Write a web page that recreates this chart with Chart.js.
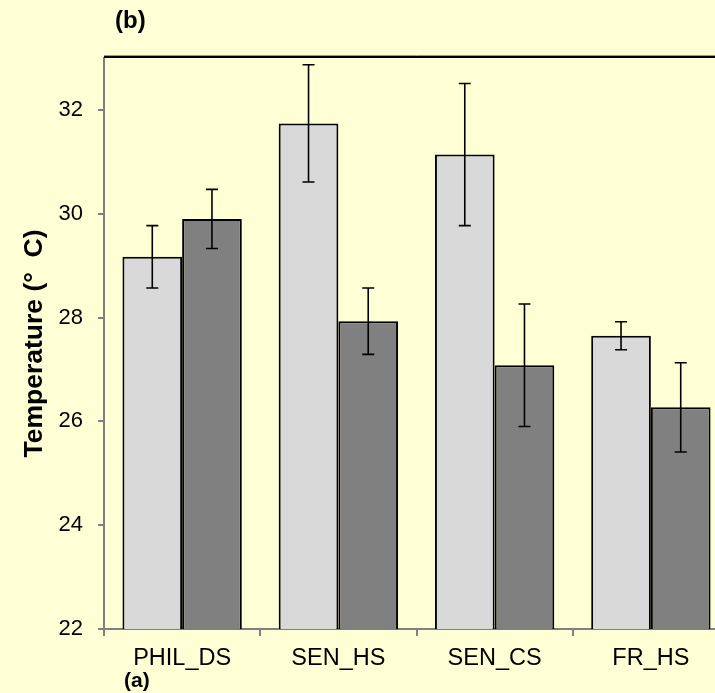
<!DOCTYPE html>
<html>
<head>
<meta charset="utf-8">
<script src="https://cdn.jsdelivr.net/npm/chart.js@4/dist/chart.umd.min.js"></script>
<style>
  html, body { margin: 0; padding: 0; background: #FFFFD6; overflow: hidden; width: 715px; height: 693px; }
  canvas { display: block; }
</style>
</head>
<body>
<canvas id="c" width="740" height="693"></canvas>
<script>
// Sites and mean temperatures (°C) with their error half-widths
const sites = ['PHIL_DS', 'SEN_HS', 'SEN_CS', 'FR_HS'];
const lightMeans = [29.17, 31.74, 31.14, 27.65];
const lightErr   = [0.60, 1.13, 1.37, 0.27];
const darkMeans  = [29.90, 27.93, 27.08, 26.27];
const darkErr    = [0.57, 0.64, 1.18, 0.86];
const yTicks = [22, 24, 26, 28, 30, 32];

const FONT = '"Liberation Sans", Arial, sans-serif';

// Vertical error bars with caps, drawn over each bar
const errorBars = {
  id: 'errorBars',
  afterDatasetsDraw(chart) {
    const ctx = chart.ctx;
    const y = chart.scales.y;
    const errs = [lightErr, darkErr];
    ctx.save();
    ctx.strokeStyle = '#000';
    ctx.lineWidth = 1.6;
    chart.data.datasets.forEach((ds, di) => {
      chart.getDatasetMeta(di).data.forEach((bar, i) => {
        const v = ds.data[i], e = errs[di][i];
        const top = y.getPixelForValue(v + e);
        const bot = y.getPixelForValue(v - e);
        const cap = 6;
        ctx.beginPath();
        ctx.moveTo(bar.x, top); ctx.lineTo(bar.x, bot);
        ctx.moveTo(bar.x - cap, top); ctx.lineTo(bar.x + cap, top);
        ctx.moveTo(bar.x - cap, bot); ctx.lineTo(bar.x + cap, bot);
        ctx.stroke();
      });
    });
    ctx.restore();
  }
};

// Frame line along the top of the plot area and the panel letters
const decorations = {
  id: 'decorations',
  afterDraw(chart) {
    const { ctx, chartArea: a } = chart;
    ctx.save();
    ctx.strokeStyle = '#9a9a8a';
    ctx.lineWidth = 1;
    ctx.beginPath(); ctx.moveTo(a.left, a.top - 2.5); ctx.lineTo(a.right, a.top - 2.5); ctx.stroke();
    ctx.strokeStyle = '#000';
    ctx.lineWidth = 2;
    ctx.beginPath(); ctx.moveTo(a.left, a.top - 1); ctx.lineTo(a.right, a.top - 1); ctx.stroke();
    ctx.fillStyle = '#000';
    ctx.textBaseline = 'alphabetic';
    ctx.textAlign = 'left';
    ctx.font = 'bold 24px ' + FONT;
    ctx.fillText('(b)', 115, 28);
    ctx.font = 'bold 21px ' + FONT;
    ctx.fillText('(a)', 124, 687);
    ctx.restore();
  }
};

new Chart(document.getElementById('c'), {
  type: 'bar',
  data: {
    labels: sites,
    datasets: [
      { data: lightMeans, backgroundColor: '#D9D9D9', borderColor: '#000', borderWidth: 2,
        categoryPercentage: 0.764, barPercentage: 1.0 },
      { data: darkMeans, backgroundColor: '#808080', borderColor: '#000', borderWidth: 2,
        categoryPercentage: 0.764, barPercentage: 1.0 }
    ]
  },
  options: {
    responsive: false,
    animation: false,
    layout: { padding: { left: 0, top: 58, right: 11, bottom: 0 } },
    plugins: { legend: { display: false }, tooltip: { enabled: false } },
    scales: {
      x: {
        offset: true,
        grid: { offset: true, drawOnChartArea: false, drawTicks: true, tickLength: 7, color: '#808080', lineWidth: 2 },
        border: { display: true, color: '#808080', width: 2 },
        ticks: { color: '#000', font: { family: FONT, size: 23.5 }, padding: 8, maxRotation: 0 },
        afterFit(s) { s.height = 64; }
      },
      y: {
        min: 22, max: 33,
        afterBuildTicks(s) { s.ticks = yTicks.map(v => ({ value: v })); },
        grid: { drawOnChartArea: false, drawTicks: true, tickLength: 6, color: '#808080', lineWidth: 2 },
        border: { display: true, color: '#808080', width: 2 },
        ticks: { color: '#000', font: { family: FONT, size: 22 }, padding: 15 },
        title: { display: true, text: 'Temperature (°  C)', color: '#000',
                 font: { family: FONT, size: 26.5, weight: 'bold' }, padding: { top: 19, bottom: 0 } },
        afterFit(s) { s.width = 104; }
      }
    }
  },
  plugins: [errorBars, decorations]
});
</script>
</body>
</html>
